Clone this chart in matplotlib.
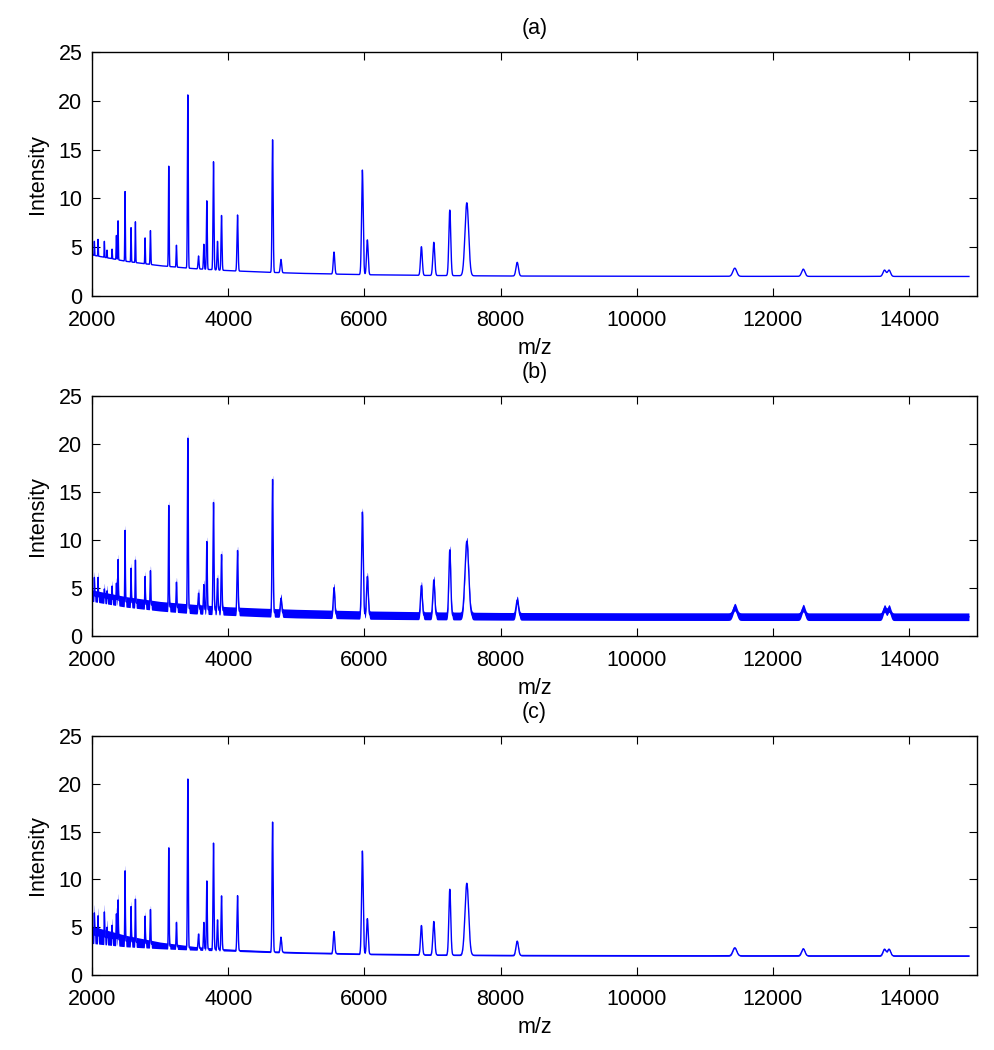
import matplotlib.pyplot as plt
import numpy as np

plt.rcParams['font.family'] = ['Liberation Sans', 'DejaVu Sans']

# peak list (m/z, width)
peak_mz = [2034, 2088, 2181, 2220, 2294, 2358, 2382, 2485, 2573, 2637, 2779, 2858,
           3127, 3240, 3407, 3564, 3642, 3686, 3784, 3843, 3902, 4137, 4652, 4775,
           5554, 5971, 6044, 6838, 7020, 7255, 7505, 8245, 11441, 12447, 13640, 13707]
peak_sigma = [3, 3, 3, 3, 3, 4, 4, 4, 4, 4, 4, 5,
              5, 5, 6, 7, 6, 6, 7, 7, 7, 8, 8, 10,
              11, 12, 12, 13, 14, 14, 27, 18, 28, 24, 22, 22]

# peak intensity (top of each peak) for each panel
height_a = [5.6, 5.8, 5.6, 4.7, 4.8, 6.2, 7.7, 10.7, 7.0, 7.6, 5.95, 6.7,
            13.3, 5.2, 20.6, 4.1, 5.3, 9.75, 13.75, 5.6, 8.25, 8.3, 16.0, 3.75,
            4.5, 12.9, 5.75, 5.05, 5.5, 8.8, 9.55, 3.45, 2.85, 2.75, 2.65, 2.65]
height_b = [6.1, 6.1, 4.9, 4.7, 5.2, 5.5, 7.96, 11.0, 7.06, 7.9, 6.2, 6.8,
            13.6, 5.6, 20.6, 4.45, 5.35, 9.84, 13.9, 5.98, 8.48, 8.9, 16.3, 3.93,
            5.04, 12.9, 6.2, 5.25, 5.84, 8.97, 9.87, 3.75, 3.0, 2.9, 2.85, 2.85]
height_c = [6.5, 6.2, 6.6, 5.0, 5.2, 6.4, 7.86, 10.9, 7.16, 7.93, 6.16, 6.85,
            13.3, 5.5, 20.5, 4.28, 5.5, 9.84, 13.8, 5.77, 8.28, 8.3, 16.0, 3.96,
            4.55, 12.97, 5.9, 5.18, 5.6, 8.97, 9.6, 3.55, 2.85, 2.75, 2.7, 2.7]

# baseline read at a few m/z values
base_mz = [2000, 2500, 3000, 3500, 4000, 4500, 5000, 6000, 7000, 8000, 10000, 15000]
base_val = [4.2, 3.55, 3.1, 2.8, 2.6, 2.45, 2.33, 2.18, 2.1, 2.05, 2.02, 2.0]

# half-width of the noise band
noise_mz = [2000, 2500, 3000, 3500, 4000, 5000, 8000, 15000]
noise_b = [0.6, 0.55, 0.5, 0.5, 0.45, 0.45, 0.4, 0.4]
noise_c = [0.9, 0.6, 0.35, 0.2, 0.1, 0.06, 0.05, 0.05]

titles = ['(a)', '(b)', '(c)']

mz = np.arange(2000, 14881, 1.0)
baseline = np.interp(mz, base_mz, base_val)


def spectrum(heights):
    y = baseline.copy()
    for c, s, h in zip(peak_mz, peak_sigma, heights):
        amp = h - np.interp(c, base_mz, base_val)
        y += amp * np.exp(-0.5 * ((mz - c) / s) ** 2)
    return y


fig = plt.figure(figsize=(9.95, 10.5), dpi=100)
boxes = [[0.0925, 0.7181, 0.8895, 0.2324],
         [0.0925, 0.3943, 0.8895, 0.2286],
         [0.0925, 0.0714, 0.8895, 0.2276]]

series = [(height_a, None), (height_b, noise_b), (height_c, noise_c)]

for i, (box, (hts, noise)) in enumerate(zip(boxes, series)):
    ax = fig.add_axes(box)
    y = spectrum(hts)
    if noise is not None:
        nb = np.interp(mz, noise_mz, noise)
        ax.fill_between(mz, y - nb, y + nb, color='#0000ff', lw=0)
    ax.plot(mz, y, color='#0000ff', lw=1.0)
    ax.set_xlim(2000, 15000)
    ax.set_ylim(0, 25)
    ax.set_xticks(np.arange(2000, 15000, 2000))
    ax.set_yticks(np.arange(0, 26, 5))
    ax.tick_params(direction='in', top=True, right=True, length=6,
                   labelsize=15.5)
    ax.tick_params(axis='x', pad=10)
    ax.tick_params(axis='y', pad=7)
    for sp in ax.spines.values():
        sp.set_linewidth(1.0)
    ax.set_xlabel('m/z', fontsize=15.5, labelpad=5)
    ax.set_ylabel('Intensity', fontsize=15.5, labelpad=7)
    ax.set_title(titles[i], fontsize=15.5, pad=13)

fig.savefig('out.png', dpi=100)
